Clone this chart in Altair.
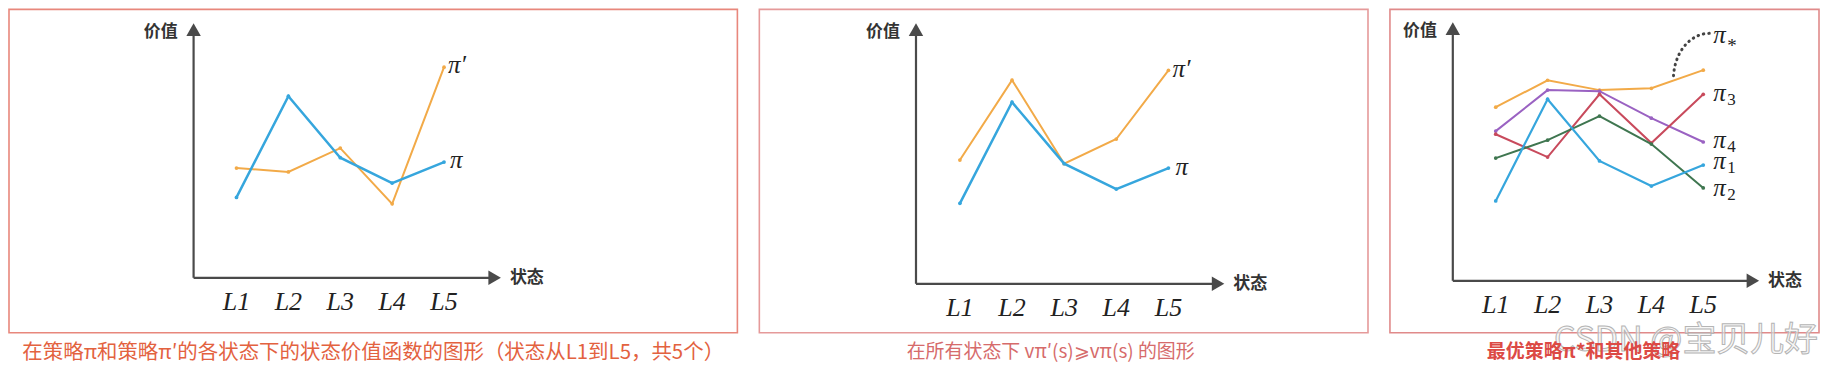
import altair as alt
import pandas as pd
import numpy as np

# ---------------- data ----------------
STATES = ["L1", "L2", "L3", "L4", "L5"]
STATE_IDX = [1, 2, 3, 4, 5]

PI_VALUES = [3.10, 7.00, 4.63, 3.65, 4.46]          # policy pi (blue)
PI_PRIME_P1 = [4.23, 4.08, 5.00, 2.85, 8.12]        # pi' in panel 1
PI_PRIME_P2 = [4.77, 7.85, 4.63, 5.58, 8.23]        # pi' in panel 2 (>= pi)
PI_STAR = [6.69, 7.73, 7.35, 7.42, 8.12]            # optimal policy
PI_1 = [3.08, 7.00, 4.62, 3.65, 4.46]
PI_2 = [4.73, 5.42, 6.35, 5.27, 3.58]
PI_3 = [5.65, 4.77, 7.19, 5.31, 7.19]
PI_4 = [5.77, 7.35, 7.31, 6.27, 5.35]

CAPTIONS = [
    "在策略π和策略π′的各状态下的状态价值函数的图形（状态从L1到L5，共5个）",
    "在所有状态下 vπ′(s)⩾vπ(s) 的图形",
    "最优策略π*和其他策略",
]
Y_LABEL = "价值"
X_LABEL = "状态"
WATERMARK = "CSDN @宝贝儿好"

# ---------------- styles ----------------
BLUE = "#36a6dd"
ORANGE = "#f2aa48"
RED = "#c84a5c"
PURPLE = "#9a62c2"
GREEN = "#3f7650"
AXIS = "#4a4a4a"
PPU = 26.0
ARROW = 210
SERIF = "Liberation Serif"
CJK = "Noto Sans CJK SC"

GEOM = [
    dict(w=730, h=324, x1=228, step=52.0, ox=185, oy=269, tipx=493, tipy=14),
    dict(w=610, h=324, x1=201, step=52.25, ox=157, oy=275, tipx=466, tipy=14),
    dict(w=430, h=324, x1=106, step=52.0, ox=63, oy=272, tipx=370, tipy=13),
]


def build(g, series, labels, caption, cap_color, cap_dx, cap_weight, cap_size, cap_offset,
          box_color, extra=None):
    ix = lambda px: 1 + (px - g["x1"]) / g["step"]
    vy = lambda py: (g["oy"] - py) / PPU
    xs = alt.Scale(domain=[ix(0), ix(g["w"])], nice=False, zero=False)
    ys = alt.Scale(domain=[vy(g["h"]), vy(0)], nice=False, zero=False)

    def X(f):
        return alt.X(f"{f}:Q", scale=xs, axis=None)

    def Y(f):
        return alt.Y(f"{f}:Q", scale=ys, axis=None)

    layers = []
    # axes lines
    ax_df = pd.DataFrame({
        "x": [ix(g["ox"]), ix(g["ox"])],
        "x2": [ix(g["ox"]), ix(g["tipx"] - 8)],
        "y": [0.0, 0.0],
        "y2": [vy(g["tipy"] + 8), 0.0],
    })
    layers.append(alt.Chart(ax_df).mark_rule(color=AXIS, strokeWidth=2.2).encode(
        x=X("x"), x2="x2", y=Y("y"), y2="y2"))
    hh = 0.866 * np.sqrt(ARROW) / 2
    up = pd.DataFrame({"x": [ix(g["ox"])], "y": [vy(g["tipy"] + hh)]})
    rt = pd.DataFrame({"x": [ix(g["tipx"] - hh)], "y": [0.0]})
    layers.append(alt.Chart(up).mark_point(shape="triangle-up", filled=True, size=ARROW,
                                           color=AXIS, opacity=1).encode(x=X("x"), y=Y("y")))
    layers.append(alt.Chart(rt).mark_point(shape="triangle-right", filled=True, size=ARROW,
                                           color=AXIS, opacity=1).encode(x=X("x"), y=Y("y")))
    # axis titles
    yl = pd.DataFrame({"x": [ix(g["ox"] - 16)], "y": [vy(g["tipy"] + 9)], "t": [Y_LABEL]})
    xl = pd.DataFrame({"x": [ix(g["tipx"] + 9)], "y": [0.0], "t": [X_LABEL]})
    layers.append(alt.Chart(yl).mark_text(font=CJK, fontSize=17, fontWeight="bold", color="#333",
                                          align="right", baseline="middle").encode(
        x=X("x"), y=Y("y"), text="t:N"))
    layers.append(alt.Chart(xl).mark_text(font=CJK, fontSize=17, fontWeight="bold", color="#333",
                                          align="left", baseline="middle").encode(
        x=X("x"), y=Y("y"), text="t:N"))
    # state tick labels
    ldf = pd.DataFrame({"x": STATE_IDX, "y": [vy(g["oy"] + 24)] * 5, "t": STATES})
    layers.append(alt.Chart(ldf).mark_text(font=SERIF, fontStyle="italic", fontSize=26, color="#222",
                                           baseline="middle").encode(x=X("x"), y=Y("y"), text="t:N"))
    # series
    for vals, color, sw in series:
        df = pd.DataFrame({"x": STATE_IDX, "y": vals})
        base = alt.Chart(df).encode(x=X("x"), y=Y("y"))
        layers.append(base.mark_line(color=color, strokeWidth=sw))
        layers.append(base.mark_point(filled=True, size=14, color=color, opacity=1))
    # series labels
    for main, sub, yv, dx, dy in labels:
        df = pd.DataFrame({"x": [5], "y": [yv], "t": [main]})
        layers.append(alt.Chart(df).mark_text(font=SERIF, fontStyle="italic", fontSize=25, color="#222",
                                              align="left", baseline="alphabetic", dx=dx, dy=dy).encode(
            x=X("x"), y=Y("y"), text="t:N"))
        if sub:
            sdf = pd.DataFrame({"x": [5], "y": [yv], "t": [sub]})
            layers.append(alt.Chart(sdf).mark_text(font=SERIF, fontSize=17, color="#222",
                                                   align="left", baseline="alphabetic",
                                                   dx=dx + 14, dy=dy + 4).encode(
                x=X("x"), y=Y("y"), text="t:N"))
    if extra:
        layers += extra(ix, vy, X, Y)

    return alt.layer(*layers).properties(
        width=g["w"], height=g["h"],
        view=alt.ViewBackground(stroke=box_color, strokeWidth=1.6),
        title=alt.TitleParams(caption, orient="bottom", anchor="middle", fontSize=cap_size, font=CJK,
                              fontWeight=cap_weight, color=cap_color, offset=cap_offset, dx=cap_dx),
    )


def extra_p3(ix, vy, X, Y):
    out = []
    # pi* label at upper right
    star = pd.DataFrame({"x": [ix(324)], "y": [vy(34)], "t": ["π"]})
    out.append(alt.Chart(star).mark_text(font=SERIF, fontStyle="italic", fontSize=25, color="#222",
                                         align="left", baseline="alphabetic").encode(
        x=X("x"), y=Y("y"), text="t:N"))
    ast = pd.DataFrame({"x": [ix(338)], "y": [vy(43)], "t": ["*"]})
    out.append(alt.Chart(ast).mark_text(font=SERIF, fontSize=19, color="#222",
                                        align="left", baseline="alphabetic").encode(
        x=X("x"), y=Y("y"), text="t:N"))
    # dotted connector arc (annotation)
    t = np.linspace(np.pi / 2, np.pi, 12)
    arc = pd.DataFrame({"x": [ix(320 + 36 * np.cos(a)) for a in t],
                        "y": [vy(70 - 46 * np.sin(a)) for a in t],
                        "o": list(range(12))})
    out.append(alt.Chart(arc).mark_line(color="#444", strokeWidth=3, strokeDash=[0.5, 5],
                                        strokeCap="round").encode(
        x=X("x"), y=Y("y"), order="o:Q"))
    # watermark
    wm = pd.DataFrame({"t": [WATERMARK]})
    out.append(alt.Chart(wm).mark_text(font=CJK, fontSize=34, fill="#f2f2f2", fillOpacity=0.6,
                                       stroke="#b5b5b5", strokeWidth=1, align="right",
                                       baseline="middle").encode(
        x=alt.value(429), y=alt.value(332), text="t:N"))
    return out


p1 = build(GEOM[0],
           [(PI_PRIME_P1, ORANGE, 2.0), (PI_VALUES, BLUE, 2.5)],
           [("π′", None, PI_PRIME_P1[4], 4, 6), ("π", None, PI_VALUES[4], 6, 6)],
           CAPTIONS[0], "#e3623f", 0, "normal", 20.5, 10, "#e8877c")
p2 = build(GEOM[1],
           [(PI_PRIME_P2, ORANGE, 2.0), (PI_VALUES, BLUE, 2.5)],
           [("π′", None, PI_PRIME_P2[4], 4, 7), ("π", None, PI_VALUES[4], 7, 7)],
           CAPTIONS[1], "#d66b6b", -13, "normal", 19, 10, "#e59a9a")
p3 = build(GEOM[2],
           [(PI_STAR, ORANGE, 2.0), (PI_4, PURPLE, 2.0), (PI_3, RED, 2.0),
            (PI_2, GREEN, 2.0), (PI_1, BLUE, 2.2)],
           [("π", "3", PI_3[4], 10, 7), ("π", "4", PI_4[4], 10, 6),
            ("π", "1", PI_1[4], 10, 4), ("π", "2", PI_2[4], 10, 8)],
           CAPTIONS[2], "#dc4a45", -21, "bold", 19, -15, "#e08a8a", extra=extra_p3)

chart = alt.hconcat(p1, p2, p3, spacing=20).properties(padding=0).configure(
    background="white")

chart.save("out.html", embed_options={"renderer": "svg", "actions": False})
